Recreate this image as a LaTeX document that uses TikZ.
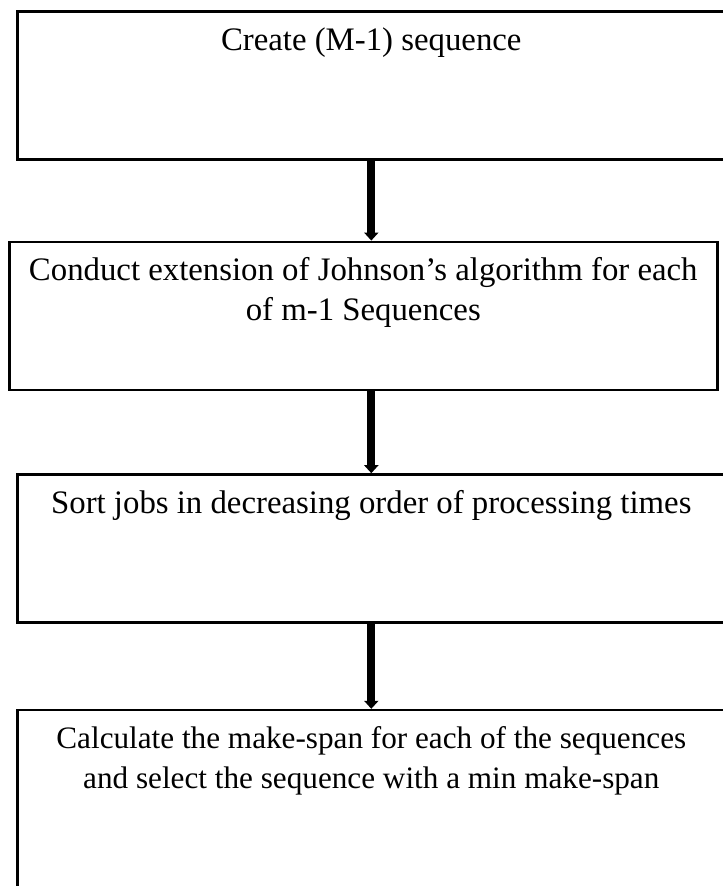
\documentclass[tikz,border=0pt]{standalone}
\usepackage{fontspec}
\setmainfont{Liberation Serif}
\usetikzlibrary{positioning,arrows.meta}

% text at the top of each box
\newcommand\steptext[3][16.4]{\parbox[t][#2][t]{350pt}{\centering\fontsize{#1}{20}\selectfont #3}}

\begin{document}
\begin{tikzpicture}[x=0.5pt,y=-0.5pt,node distance=40pt,
    stepbox/.style={draw,line width=1.3pt,minimum width=354pt,inner xsep=0pt,inner ysep=8pt},
    flow/.style={line width=4pt,-{Triangle[width=7pt,length=4pt]}}]
  \useasboundingbox (0,0) rectangle (722,886);

  \node[stepbox,anchor=north west] (b1) at (16,10) {\steptext{58pt}{Create (M-1) sequence}};
  \node[stepbox] (b2) [below=40pt of b1,xshift=-4pt] {\steptext{58pt}{Conduct extension of Johnson’s algorithm for each\\ of m-1 Sequences}};
  \node[stepbox] (b3) [below=41pt of b2,xshift=4pt] {\steptext{58pt}{Sort jobs in decreasing order of processing times}};
  \node[stepbox] (b4) [below=42.5pt of b3] {\steptext[15.6]{86pt}{Calculate the make-span for each of the sequences\\ and select the sequence with a min make-span}};

  \draw[flow] (b1.south) -- (b1.south |- b2.north);
  \draw[flow] (b2.south -| b3.north) -- (b3.north);
  \draw[flow] (b3.south) -- (b4.north);
\end{tikzpicture}
\end{document}
